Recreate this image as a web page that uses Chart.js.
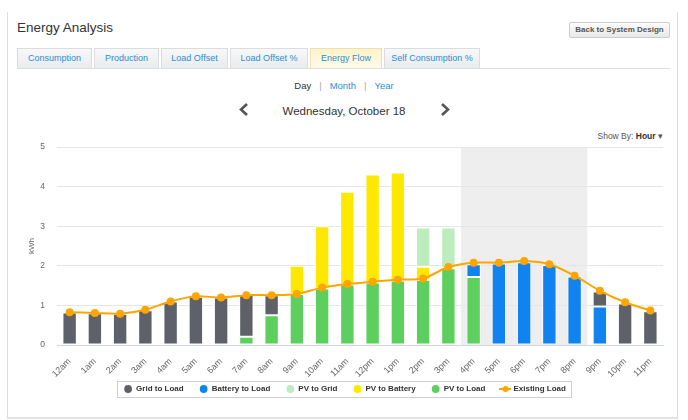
<!DOCTYPE html>
<html>
<head>
<meta charset="utf-8">
<script src="https://cdn.jsdelivr.net/npm/chart.js@4.4.0/dist/chart.umd.min.js"></script>
<style>
  body { margin: 0; background: #fff; font-family: "Liberation Sans", Arial, sans-serif; }
  #page { position: relative; width: 688px; height: 420px; overflow: hidden; }
  .abs { position: absolute; white-space: nowrap; }
  #card { left: 7px; top: 12px; width: 671px; height: 407px; box-sizing: border-box;
          border: 1px solid #ddd; border-top: none; border-bottom: 2px solid #e2e2e2; }
  #title { left: 17px; top: 21.3px; font-size: 13.5px; line-height: 13.5px; color: #333; }
  #backBtn { left: 569px; top: 22px; width: 101px; height: 16px; box-sizing: border-box;
             border: 1px solid #ccc; border-radius: 2px; background: linear-gradient(#fdfdfd, #e8e8e8);
             font-size: 8px; font-weight: bold; color: #555; text-align: center; line-height: 14px; }
  .tab { position: absolute; top: 47.5px; height: 20px; box-sizing: border-box; border: 1px solid #dcdcdc;
         border-bottom: none; background: linear-gradient(#f7f8f9, #e9ebed); color: #2b8fd3;
         font-size: 9px; line-height: 19px; text-align: center; white-space: nowrap; }
  .tab.active { background: linear-gradient(#fff3c9, #fffbea); border-color: #ecdfb5; }
  #tabLine { left: 17px; top: 67.5px; width: 653px; height: 1px; background: #dedede; }
  #range { left: 0; width: 688px; top: 80.7px; text-align: center; font-size: 9.5px; line-height: 9.5px; color: #333; }
  #range .sep { color: #aaa; margin: 0 8px; }
  #range .lnk { color: #2b8fd3; }
  #date { left: 0; width: 688px; top: 106px; text-align: center; font-size: 11.5px; line-height: 11.5px; color: #333; }
  #showBy { right: 25px; top: 131.5px; font-size: 8.5px; line-height: 8.5px; color: #555; }
  #showBy b { color: #333; }
  #chevrons { left: 0; top: 0; }
  #chartBox { left: 0; top: 130px; width: 688px; height: 290px; }
</style>
</head>
<body>
<div id="page">
  <div id="card" class="abs"></div>
  <div id="title" class="abs">Energy Analysis</div>
  <div id="backBtn" class="abs">Back to System Design</div>
  <div class="tab" style="left:17px;width:75px">Consumption</div>
  <div class="tab" style="left:94px;width:65px">Production</div>
  <div class="tab" style="left:161px;width:67px">Load Offset</div>
  <div class="tab" style="left:230px;width:78px">Load Offset %</div>
  <div class="tab active" style="left:310px;width:72px">Energy Flow</div>
  <div class="tab" style="left:384px;width:96px">Self Consumption %</div>
  <div id="tabLine" class="abs"></div>
  <div id="range" class="abs">Day<span class="sep">|</span><span class="lnk">Month</span><span class="sep">|</span><span class="lnk">Year</span></div>
  <div id="date" class="abs">Wednesday, October 18</div>
  <svg id="chevrons" class="abs" width="688" height="130">
    <polyline points="247,104 241,109.5 247,115" fill="none" stroke="#555" stroke-width="2.6"/>
    <polyline points="442,104 448,109.5 442,115" fill="none" stroke="#555" stroke-width="2.6"/>
  </svg>
  <div id="showBy" class="abs">Show By: <b>Hour</b> &#9662;</div>
  <div id="chartBox" class="abs"><canvas id="flowChart"></canvas></div>
</div>

<script>
const hours = ['12am', '1am', '2am', '3am', '4am', '5am', '6am', '7am', '8am', '9am', '10am', '11am',
               '12pm', '1pm', '2pm', '3pm', '4pm', '5pm', '6pm', '7pm', '8pm', '9pm', '10pm', '11pm'];

const existingLoad  = [0.83, 0.81, 0.79, 0.89, 1.10, 1.23, 1.20, 1.26, 1.26, 1.29, 1.45, 1.54,
                       1.60, 1.65, 1.68, 1.97, 2.08, 2.08, 2.12, 2.04, 1.75, 1.37, 1.08, 0.87];
const pvToLoad      = [null, null, null, null, null, null, null, 0.21, 0.75, 1.29, 1.43, 1.53,
                       1.58, 1.63, 1.65, 1.94, 1.72, null, null, null, null, null, null, null];
const batteryToLoad = [null, null, null, null, null, null, null, null, null, null, null, null,
                       null, null, null, null, 0.32, 2.06, 2.09, 2.02, 1.73, 0.97, null, null];
const gridToLoad    = [0.82, 0.80, 0.79, 0.88, 1.10, 1.22, 1.20, 1.06, 0.51, null, null, null,
                       null, null, null, null, null, null, null, null, null, 0.38, 1.05, 0.85];
const pvToBattery   = [null, null, null, null, null, null, null, null, null, 0.71, 1.57, 2.34,
                       2.73, 2.73, 0.33, null, null, null, null, null, null, null, null, null];
const pvToGrid      = [null, null, null, null, null, null, null, null, null, null, null, null,
                       null, null, 0.99, 1.03, null, null, null, null, null, null, null, null];

const yTicks = [0, 1, 2, 3, 4, 5];
const shadedHours = ['4pm', '8pm'];
const legendOrder = ['Grid to Load', 'Battery to Load', 'PV to Grid', 'PV to Battery', 'PV to Load', 'Existing Load'];

const colors = {
  grid: '#5e6169',
  battery: '#1183f0',
  pvGrid: '#bdecbf',
  pvBattery: '#ffe800',
  pvLoad: '#5ccf5f',
  load: '#ffa500'
};

const LEGEND_LIFT = 9; // x labels need a taller axis box, pull the legend back up

Chart.defaults.font.family = '"Liberation Sans", Arial, sans-serif';

// little line-with-dot marker for the Existing Load legend entry
const loadIcon = document.createElement('canvas');
loadIcon.width = 12;
loadIcon.height = 8;
const ic = loadIcon.getContext('2d');
ic.strokeStyle = colors.load;
ic.lineWidth = 2;
ic.beginPath(); ic.moveTo(0, 4); ic.lineTo(12, 4); ic.stroke();
ic.fillStyle = colors.load;
ic.beginPath(); ic.arc(6, 4, 3, 0, Math.PI * 2); ic.fill();

const plotBand = {
  id: 'plotBand',
  beforeDraw(chart) {
    const {ctx, chartArea, scales: {x}} = chart;
    const x0 = x.getPixelForValue(hours.indexOf(shadedHours[0]) - 0.5);
    const x1 = x.getPixelForValue(hours.indexOf(shadedHours[1]) + 0.5);
    ctx.save();
    ctx.fillStyle = '#eeeeee';
    ctx.fillRect(x0, chartArea.top, x1 - x0, chartArea.bottom - chartArea.top);
    ctx.restore();
  }
};

const legendBox = {
  id: 'legendBox',
  afterUpdate(chart) {
    const lg = chart.legend;
    lg.top -= LEGEND_LIFT;
    lg.bottom -= LEGEND_LIFT;
    lg.legendHitBoxes.forEach(h => { h.top -= LEGEND_LIFT; });
  },
  afterDraw(chart) {
    const hb = chart.legend.legendHitBoxes;
    if (!hb || !hb.length) return;
    const left = Math.min(...hb.map(h => h.left));
    const right = Math.max(...hb.map(h => h.left + h.width));
    const cy = hb[0].top + hb[0].height / 2;
    const ctx = chart.ctx;
    ctx.save();
    ctx.strokeStyle = '#cfcfcf';
    ctx.lineWidth = 1;
    ctx.strokeRect(Math.round(left - 7) + 0.5, Math.round(cy - 8) + 0.5, Math.round(right - left + 12), 16);
    ctx.restore();
  }
};

function barSet(label, data, color) {
  return {
    type: 'bar',
    label: label,
    data: data,
    backgroundColor: color,
    borderColor: '#ffffff',
    borderWidth: 1,
    borderSkipped: false,
    barPercentage: 0.57,
    categoryPercentage: 1,
    pointStyle: 'circle'
  };
}

new Chart(document.getElementById('flowChart'), {
  data: {
    labels: hours,
    datasets: [
      {
        type: 'line',
        label: 'Existing Load',
        data: existingLoad,
        borderColor: colors.load,
        backgroundColor: colors.load,
        borderWidth: 2,
        pointRadius: 3,
        pointHoverRadius: 3,
        tension: 0.3,
        fill: false
      },
      barSet('PV to Load', pvToLoad, colors.pvLoad),
      barSet('Battery to Load', batteryToLoad, colors.battery),
      barSet('Grid to Load', gridToLoad, colors.grid),
      barSet('PV to Battery', pvToBattery, colors.pvBattery),
      barSet('PV to Grid', pvToGrid, colors.pvGrid)
    ]
  },
  options: {
    responsive: true,
    maintainAspectRatio: false,
    animation: false,
    layout: { padding: { left: 27, right: 25, top: 15, bottom: 8 } },
    plugins: {
      tooltip: { enabled: false },
      legend: {
        position: 'bottom',
        labels: {
          usePointStyle: true,
          boxWidth: 8,
          boxHeight: 5.5,
          padding: 16,
          color: '#333',
          font: { size: 8, weight: 'bold' },
          generateLabels(chart) {
            const items = Chart.defaults.plugins.legend.labels.generateLabels(chart);
            items.forEach(it => {
              it.lineWidth = 0;
              it.strokeStyle = 'transparent';
              if (it.text === 'Existing Load') it.pointStyle = loadIcon;
            });
            return items;
          },
          sort: (a, b) => legendOrder.indexOf(a.text) - legendOrder.indexOf(b.text)
        }
      }
    },
    scales: {
      x: {
        stacked: true,
        grid: { display: false },
        border: { color: '#ccd6eb' },
        ticks: { color: '#666', font: { size: 9 }, maxRotation: 45, minRotation: 45, autoSkip: false, padding: 3 },
        afterFit(scale) { scale.height = 33; }
      },
      y: {
        stacked: true,
        min: 0,
        max: 5,
        afterBuildTicks(scale) { scale.ticks = yTicks.map(v => ({ value: v })); },
        grid: { color: '#e6e6e6', drawTicks: false },
        border: { display: false },
        ticks: { color: '#666', font: { size: 8.5 }, padding: 12 },
        title: { display: true, text: 'kWh', color: '#666', font: { size: 8 }, padding: { top: 0, bottom: 0 } },
        afterFit(scale) { scale.width = 30; }
      }
    }
  },
  plugins: [plotBand, legendBox]
});
</script>
</body>
</html>
